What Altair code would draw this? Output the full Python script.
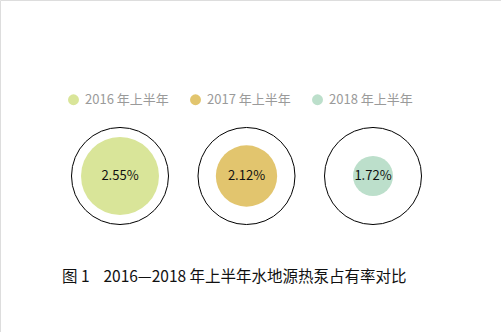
import altair as alt
import pandas as pd

years = ["2016 年上半年", "2017 年上半年", "2018 年上半年"]
shares = [2.55, 2.12, 1.72]
colors = ["#d9e599", "#e2c56e", "#bcdfcb"]
title_text = "图\u00a01\u00a0\u00a0\u00a0\u00a02016—2018 年上半年水地源热泵占有率对比"

FONT = "Noto Sans CJK SC"

df = pd.DataFrame({"year": years, "share": shares})

base = alt.Chart(df).transform_calculate(
    label="format(datum.share, '.2f') + '%'"
).encode(
    x=alt.X("year:N", sort=years,
            scale=alt.Scale(type="point", range=[120, 373], padding=0),
            axis=None),
    y=alt.value(176),
)

outer = base.mark_point(shape="circle", filled=False, stroke="black",
                        strokeWidth=1, size=9409, opacity=1)

inner = base.mark_circle(opacity=1).encode(
    size=alt.Size("share:Q",
                  scale=alt.Scale(domain=[1.72, 2.55], range=[1600, 6084]),
                  legend=None),
    color=alt.Color("year:N", sort=years,
                    scale=alt.Scale(domain=years, range=colors),
                    legend=alt.Legend(orient="none", legendX=67, legendY=93,
                                      direction="horizontal", title=None,
                                      symbolType="circle", symbolSize=120,
                                      symbolOpacity=1, symbolStrokeWidth=0,
                                      labelFontSize=13, labelColor="#9a9a9a",
                                      labelFont=FONT, columnPadding=20,
                                      labelOffset=5, symbolOffset=0)),
)

labels = base.mark_text(fontSize=13, font=FONT, color="#111111").encode(
    text="label:N"
)

title = alt.Chart(pd.DataFrame({"t": [title_text]})).mark_text(
    align="left", baseline="middle", fontSize=15.5, font=FONT, color="#111111"
).encode(x=alt.value(62), y=alt.value(277), text="t:N")

chart = alt.layer(outer, inner, labels, title).properties(
    width=501, height=332, padding=0, autosize=alt.AutoSizeParams(type="none")
).configure_view(stroke=None).configure(background="white")

chart.save("out.html", embed_options={"renderer": "svg", "actions": False})
